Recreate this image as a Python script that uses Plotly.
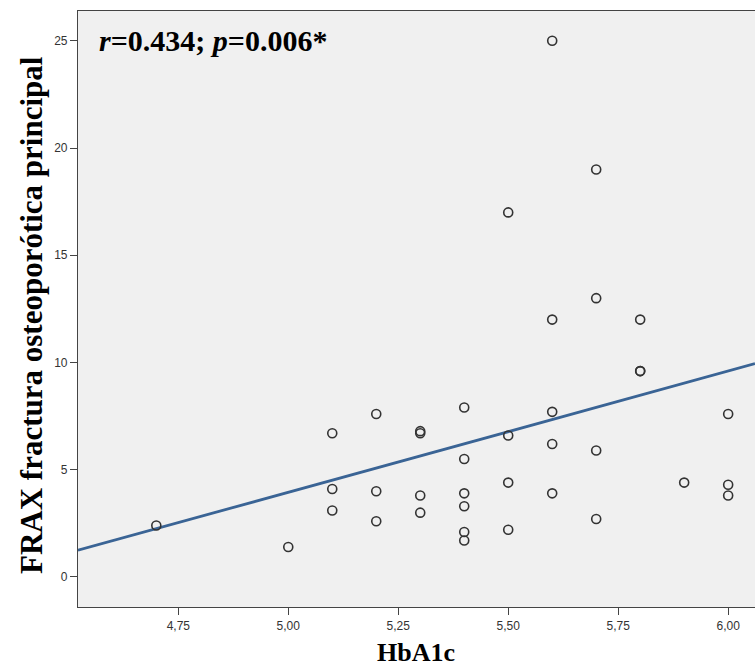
import numpy as np
import plotly.graph_objects as go

# HbA1c values (x) and FRAX major osteoporotic fracture risk (y)
hba1c = [4.7, 5.0,
         5.1, 5.1, 5.1,
         5.2, 5.2, 5.2,
         5.3, 5.3, 5.3, 5.3,
         5.4, 5.4, 5.4, 5.4, 5.4, 5.4,
         5.5, 5.5, 5.5, 5.5,
         5.6, 5.6, 5.6, 5.6, 5.6,
         5.7, 5.7, 5.7, 5.7,
         5.8, 5.8, 5.8,
         5.9,
         6.0, 6.0, 6.0]
frax = [2.4, 1.4,
        6.7, 4.1, 3.1,
        7.6, 4.0, 2.6,
        6.8, 6.7, 3.8, 3.0,
        7.9, 5.5, 3.9, 3.3, 2.1, 1.7,
        17.0, 6.6, 4.4, 2.2,
        25.0, 12.0, 7.7, 6.2, 3.9,
        19.0, 13.0, 5.9, 2.7,
        12.0, 9.6, 9.6,
        4.4,
        7.6, 4.3, 3.8]

x_tickvals = [4.75, 5.00, 5.25, 5.50, 5.75, 6.00]
x_ticktext = ["4,75", "5,00", "5,25", "5,50", "5,75", "6,00"]
y_tickvals = [0, 5, 10, 15, 20, 25]

x_range = [4.522, 6.061]
y_range = [-1.40, 26.39]

# linear fit line (OLS) over the visible x range
slope, intercept = np.polyfit(hba1c, frax, 1)
fit_x = np.array(x_range)
fit_y = slope * fit_x + intercept

fig = go.Figure()
fig.add_trace(go.Scatter(
    x=fit_x, y=fit_y, mode="lines",
    line=dict(color="#3a6495", width=2.8),
    hoverinfo="skip", showlegend=False,
))
fig.add_trace(go.Scatter(
    x=hba1c, y=frax, mode="markers",
    marker=dict(symbol="circle-open", size=9, color="#333333",
                line=dict(width=1.6, color="#333333")),
    showlegend=False,
))

tick_font = dict(family="Liberation Sans Narrow, Liberation Sans, Arial", size=12, color="#333333")
serif = "Liberation Serif, Times New Roman, serif"

fig.update_layout(
    width=755, height=672,
    margin=dict(l=78, r=0, t=11, b=65),
    paper_bgcolor="white",
    plot_bgcolor="#f0f0f0",
    xaxis=dict(
        range=x_range, tickvals=x_tickvals, ticktext=x_ticktext,
        showgrid=False, zeroline=False,
        showline=True, mirror=True, linecolor="#444444", linewidth=1.2,
        ticks="outside", ticklen=7, tickcolor="#444444", tickwidth=1.2,
        tickfont=tick_font,
    ),
    yaxis=dict(
        range=y_range, tickvals=y_tickvals,
        showgrid=False, zeroline=False,
        showline=True, mirror=False, linecolor="#444444", linewidth=1.2,
        ticks="outside", ticklen=7, tickcolor="#444444", tickwidth=1.2,
        tickfont=tick_font,
    ),
    annotations=[
        dict(text="<b><i>r</i>=0.434; <i>p</i>=0.006*</b>",
             xref="paper", yref="paper", x=0.028, y=0.9497,
             xanchor="left", yanchor="middle", showarrow=False,
             font=dict(family=serif, size=30, color="black")),
        dict(text="<b>HbA1c</b>",
             xref="paper", yref="paper", x=(416 - 78) / 677, y=-(652 - 607) / 596,
             xanchor="center", yanchor="middle", showarrow=False,
             font=dict(family=serif, size=26, color="black")),
        dict(text="<b>FRAX fractura osteoporótica principal</b>",
             xref="paper", yref="paper", x=-(78 - 32) / 677, y=(607 - 315) / 596,
             xanchor="center", yanchor="middle", showarrow=False, textangle=-90,
             font=dict(family=serif, size=31, color="black")),
    ],
)

fig.write_html("out.html")
